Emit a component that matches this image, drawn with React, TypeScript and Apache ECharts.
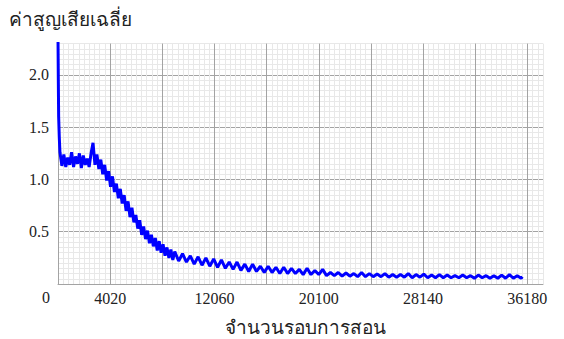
import React, { useEffect, useRef } from "react";
import * as echarts from "echarts";

const iterations: number[] = [
  0, 25, 50, 100,
  150, 300, 450, 600, 750, 900, 1050, 1200, 1350, 1500,
  1650, 1800, 1950, 2100, 2250, 2400, 2550, 2700, 2850, 3000,
  3150, 3300, 3450, 3600, 3750, 3900, 4050, 4200, 4350, 4500,
  4650, 4800, 4950, 5100, 5250, 5400, 5550, 5700, 5850, 6000,
  6150, 6300, 6450, 6600, 6750, 6900, 7050, 7200, 7350, 7500,
  7650, 7800, 7950, 8100, 8250, 8400, 8550, 8700, 8850, 9000,
  9300, 9600, 9900, 10200, 10500, 10800, 11100, 11400, 11700, 12000,
  12300, 12600, 12900, 13200, 13500, 13800, 14100, 14400, 14700, 15000,
  15300, 15600, 15900, 16200, 16500, 16800, 17100, 17400, 17700, 18000,
  18300, 18600, 18900, 19200, 19500, 19800, 20100, 20400, 20700, 21000,
  21300, 21600, 21900, 22200, 22500, 22800, 23100, 23400, 23700, 24000,
  24300, 24600, 24900, 25200, 25500, 25800, 26100, 26400, 26700, 27000,
  27300, 27600, 27900, 28200, 28500, 28800, 29100, 29400, 29700, 30000,
  30300, 30600, 30900, 31200, 31500, 31800, 32100, 32400, 32700, 33000,
  33300, 33600, 33900, 34200, 34500, 34800, 35100, 35400, 35700, 35800,
];

const loss: number[] = [
  2.36, 1.95, 1.6, 1.4,
  1.26, 1.13, 1.24, 1.12, 1.21, 1.14, 1.26, 1.12, 1.22, 1.15,
  1.25, 1.11, 1.23, 1.14, 1.2, 1.12, 1.25, 1.35, 1.14, 1.24,
  1.1, 1.19, 1.05, 1.14, 0.99, 1.08, 0.93, 1.03, 0.88, 0.96,
  0.82, 0.91, 0.77, 0.85, 0.7, 0.79, 0.64, 0.73, 0.59, 0.66,
  0.53, 0.61, 0.47, 0.55, 0.43, 0.51, 0.39, 0.47, 0.36, 0.44,
  0.32, 0.41, 0.3, 0.38, 0.27, 0.35, 0.25, 0.33, 0.23, 0.31,
  0.22, 0.29, 0.21, 0.27, 0.19, 0.26, 0.18, 0.25, 0.17, 0.24,
  0.16, 0.23, 0.15, 0.21, 0.14, 0.21, 0.13, 0.19, 0.12, 0.19,
  0.12, 0.17, 0.11, 0.17, 0.11, 0.16, 0.1, 0.16, 0.1, 0.15,
  0.1, 0.14, 0.09, 0.15, 0.09, 0.13, 0.09, 0.14, 0.08, 0.11,
  0.08, 0.11, 0.075, 0.105, 0.075, 0.1, 0.07, 0.11, 0.07, 0.1,
  0.07, 0.095, 0.07, 0.1, 0.065, 0.09, 0.065, 0.09, 0.065, 0.1,
  0.06, 0.09, 0.065, 0.095, 0.06, 0.085, 0.06, 0.09, 0.06, 0.085,
  0.06, 0.08, 0.06, 0.085, 0.06, 0.08, 0.055, 0.085, 0.06, 0.08,
  0.055, 0.08, 0.055, 0.085, 0.055, 0.09, 0.055, 0.08, 0.055, 0.07,
];

const xLabelValues: number[] = [4020, 12060, 20100, 28140, 36180];
const yLabelValues: number[] = [0.5, 1.0, 1.5, 2.0];

const yTitle = "ค่าสูญเสียเฉลี่ย";
const xTitle = "จำนวนรอบการสอน";

const MAJOR = "#a3a3a3";
const MINOR = "#e8e8e8";
const gridColors = [MAJOR, MINOR, MINOR, MINOR, MINOR, MINOR, MINOR, MINOR, MINOR, MINOR];
const FONT = "'Liberation Serif', 'Times New Roman', serif";

export default function App() {
  const ref = useRef<HTMLDivElement>(null);
  useEffect(() => {
    if (!ref.current) return;
    const chart = echarts.init(ref.current, undefined, { renderer: "svg" });
    const data = iterations.map((x, i) => [x, loss[i]]);
    chart.setOption({
      animation: false,
      backgroundColor: "#ffffff",
      grid: { left: 58, right: 21, top: 43.6, bottom: 55, containLabel: false },
      xAxis: {
        type: "value",
        min: 0,
        max: 37386,
        interval: 402,
        axisLine: { show: true, lineStyle: { color: MAJOR } },
        axisTick: { show: false },
        splitLine: { show: true, lineStyle: { color: gridColors, width: 1, type: "solid" } },
        axisLabel: {
          show: true,
          margin: 6,
          color: "#222",
          fontFamily: FONT,
          fontSize: 16,
          showMinLabel: true,
          showMaxLabel: false,
          formatter: (v: number) => (xLabelValues.includes(Math.round(v)) ? String(Math.round(v)) : ""),
        },
      },
      yAxis: {
        type: "value",
        min: 0,
        max: 2.3,
        interval: 0.05,
        axisLine: { show: true, lineStyle: { color: MAJOR } },
        axisTick: { show: false },
        splitLine: { show: true, lineStyle: { color: gridColors, width: 1, type: "solid" } },
        axisLabel: {
          show: true,
          margin: 9,
          color: "#222",
          fontFamily: FONT,
          fontSize: 16,
          formatter: (v: number) => {
            const m = yLabelValues.find((y) => Math.abs(y - v) < 1e-6);
            return m !== undefined ? m.toFixed(1) : "";
          },
        },
      },
      graphic: [
        {
          type: "text",
          left: 9,
          top: 10,
          style: { text: yTitle, fill: "#222", font: `19px ${FONT}` },
        },
        {
          type: "text",
          x: 305,
          y: 327,
          style: { text: xTitle, fill: "#222", font: `19px ${FONT}`, align: "center", verticalAlign: "middle" },
        },
        {
          type: "text",
          x: 46,
          y: 297,
          style: { text: "0", fill: "#222", font: `16px ${FONT}`, align: "center", verticalAlign: "middle" },
        },
      ],
      series: [
        {
          type: "line",
          data,
          showSymbol: false,
          symbol: "none",
          lineStyle: { color: "#0000ff", width: 3 },
        },
      ],
    });
    return () => chart.dispose();
  }, []);
  return (
    <div
      ref={ref}
      style={{ position: "absolute", left: 0, top: 0, width: 564, height: 339 }}
    />
  );
}
